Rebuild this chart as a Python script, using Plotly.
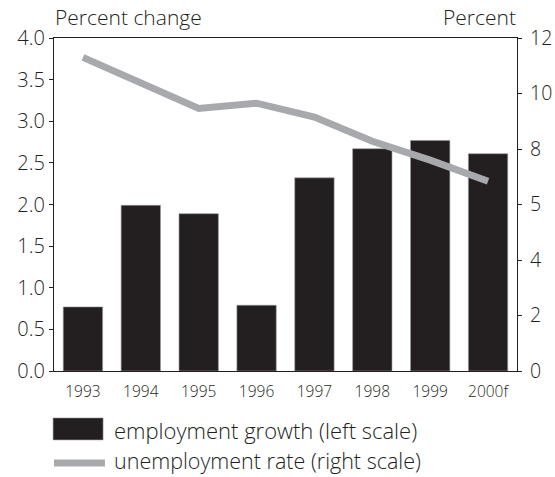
import plotly.graph_objects as go

years = ["1993", "1994", "1995", "1996", "1997", "1998", "1999", "2000f"]
employment_growth = [0.77, 1.99, 1.89, 0.79, 2.32, 2.67, 2.77, 2.61]
unemployment_rate = [11.3, 10.36, 9.46, 9.65, 9.15, 8.28, 7.6, 6.84]

left_ticks = [0, 0.5, 1.0, 1.5, 2.0, 2.5, 3.0, 3.5, 4.0]
left_ticktext = ["0.0", "0.5", "1.0", "1.5", "2.0", "2.5", "3.0", "3.5", "4.0"]
right_ticks = [0, 2, 4, 6, 8, 10, 12]
right_ticktext = ["0", "2", "4", "5", "8", "10", "12"]

BAR = "#231f20"
GRAY = "#a7a9ac"
TXT = "#231f20"
FONT = "Open Sans"
W = 300

fig = go.Figure()
fig.add_trace(go.Bar(x=years, y=employment_growth, marker=dict(color=BAR, line=dict(color="#9a9a9a", width=0.6)),
                     name="employment growth (left scale)", yaxis="y"))
fig.add_trace(go.Scatter(x=years, y=unemployment_rate, mode="lines", line=dict(color=GRAY, width=7),
                         name="unemployment rate (right scale)", yaxis="y2"))

fig.update_layout(
    width=555, height=477,
    margin=dict(l=54, r=38, t=38, b=106, autoexpand=False),
    paper_bgcolor="white", plot_bgcolor="white",
    showlegend=False,
    bargap=0.32,
    font=dict(family=FONT, color=TXT, size=19, weight=W),
    xaxis=dict(showline=True, linecolor=TXT, linewidth=1.2, mirror=True, ticks="", automargin=False,
               tickfont=dict(size=15.5, weight=W), showgrid=False, ticklabelstandoff=6),
    yaxis=dict(range=[0, 4], tickvals=left_ticks, ticktext=left_ticktext, showline=True, automargin=False,
               linecolor=TXT, linewidth=1.2, ticks="outside", ticklen=4, tickcolor=TXT,
               showgrid=False, zeroline=False, tickfont=dict(size=20, weight=W)),
    yaxis2=dict(range=[0, 12], tickvals=right_ticks, ticktext=right_ticktext, overlaying="y", side="right",
                showline=True, linecolor=TXT, linewidth=1.2, ticks="outside", ticklen=4, tickcolor=TXT,
                automargin=False, showgrid=False, zeroline=False, tickfont=dict(size=19.5, weight=W),
                ticklabelstandoff=4),
)

fig.add_annotation(text="Percent change", xref="paper", yref="paper", x=-0.003, y=1.0, yshift=5,
                   xanchor="left", yanchor="bottom", showarrow=False, font=dict(size=21, weight=W))
fig.add_annotation(text="Percent", xref="paper", yref="paper", x=1.003, y=1.0, yshift=5,
                   xanchor="right", yanchor="bottom", showarrow=False, font=dict(size=21, weight=W))

# legend drawn manually
fig.add_shape(type="rect", xref="paper", yref="paper", x0=-0.002, x1=0.106, y0=-0.207, y1=-0.141,
              fillcolor=BAR, line=dict(color="#9a9a9a", width=0.6))
fig.add_shape(type="line", xref="paper", yref="paper", x0=0.0, x1=0.11, y0=-0.276, y1=-0.276,
              line=dict(color=GRAY, width=7))
fig.add_annotation(text="employment growth (left scale)", xref="paper", yref="paper", x=0.125, y=-0.176,
                   xanchor="left", yanchor="middle", showarrow=False, font=dict(size=22, weight=W))
fig.add_annotation(text="unemployment rate (right scale)", xref="paper", yref="paper", x=0.125, y=-0.27,
                   xanchor="left", yanchor="middle", showarrow=False, font=dict(size=21.5, weight=W))

fig.write_html("out.html")
